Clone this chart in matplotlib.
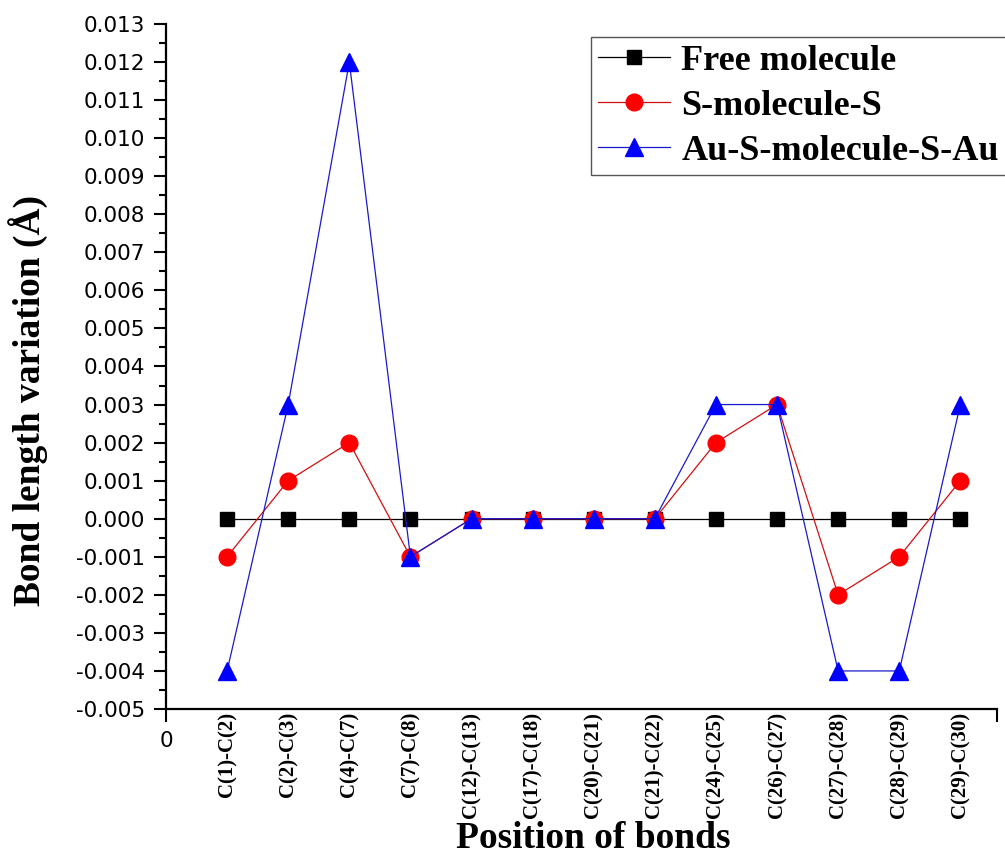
import matplotlib
matplotlib.use("Agg")
import matplotlib.pyplot as plt
import numpy as np
from matplotlib.ticker import AutoMinorLocator

categories = ["C(1)-C(2)", "C(2)-C(3)", "C(4)-C(7)", "C(7)-C(8)", "C(12)-C(13)",
              "C(17)-C(18)", "C(20)-C(21)", "C(21)-C(22)", "C(24)-C(25)",
              "C(26)-C(27)", "C(27)-C(28)", "C(28)-C(29)", "C(29)-C(30)"]
free_molecule = [0, 0, 0, 0, 0, 0, 0, 0, 0, 0, 0, 0, 0]
s_molecule_s = [-0.001, 0.001, 0.002, -0.001, 0, 0, 0, 0, 0.002, 0.003, -0.002, -0.001, 0.001]
au_s_molecule_s_au = [-0.004, 0.003, 0.012, -0.001, 0, 0, 0, 0, 0.003, 0.003, -0.004, -0.004, 0.003]
series_names = ["Free molecule", "S-molecule-S", "Au-S-molecule-S-Au"]
ytick_values = [-0.005, -0.004, -0.003, -0.002, -0.001, 0.000, 0.001, 0.002, 0.003,
                0.004, 0.005, 0.006, 0.007, 0.008, 0.009, 0.010, 0.011, 0.012, 0.013]

serif = ["Liberation Serif", "DejaVu Serif"]
sans = ["DejaVu Sans"]

fig = plt.figure(figsize=(10.05, 8.57), dpi=100)
ax = fig.add_axes([166/1005, 1-709/857, (997-166)/1005, (709-24)/857])

x = np.arange(1, len(categories) + 1)
ax.plot(x, free_molecule, color="black", lw=0.9, marker="s", ms=10.5,
        mec="black", mfc="black", label=series_names[0], zorder=3)
ax.plot(x, s_molecule_s, color="#d01010", lw=0.9, marker="o", ms=12,
        mec="red", mfc="red", label=series_names[1], zorder=4)
ax.plot(x, au_s_molecule_s_au, color="#1a1acc", lw=0.9, marker="^", ms=13.5,
        mec="blue", mfc="blue", label=series_names[2], zorder=5)

ax.set_xlim(0, 13.6)
ax.set_ylim(-0.005, 0.013)

for s in ["top", "right"]:
    ax.spines[s].set_visible(False)
for s in ["left", "bottom"]:
    ax.spines[s].set_linewidth(1.6)

ax.set_yticks(ytick_values, [f"{v:.3f}" for v in ytick_values])
ax.yaxis.set_minor_locator(AutoMinorLocator(2))
ax.tick_params(axis="y", which="major", direction="out", length=9, width=1.5, pad=6,
               labelsize=15.5)
ax.tick_params(axis="y", which="minor", direction="out", length=5, width=1.5)
for lab in ax.get_yticklabels():
    lab.set_fontfamily(sans)

ax.set_xticks(x, categories)
ax.set_xticks([0, 13.6], ["0", ""], minor=True)
ax.tick_params(axis="x", which="major", length=0, pad=2, labelsize=15, labelrotation=90)
ax.tick_params(axis="x", which="minor", direction="out", length=9.5, width=1.5, pad=6,
               labelsize=15.5)
for lab in ax.get_xticklabels():
    lab.set_fontfamily(serif)
    lab.set_fontweight("bold")
for lab in ax.get_xticklabels(minor=True):
    lab.set_fontfamily(sans)

ax.set_ylabel("Bond length variation (Å)", fontsize=27, fontweight="bold",
              family=serif, va="center")
ax.yaxis.set_label_coords(-0.166, 0.45)
ax.set_xlabel("Position of bonds", fontsize=27, fontweight="bold",
              family=serif, va="baseline")
ax.xaxis.set_label_coords(0.514, -0.2035)

leg = ax.legend(loc="upper left", bbox_to_anchor=(591/1005, 1-37/857),
                bbox_transform=fig.transFigure, borderaxespad=0,
                prop={"family": serif, "weight": "bold", "size": 26},
                handlelength=2.0, handletextpad=0.3, labelspacing=0.33,
                borderpad=0.2, fancybox=False, framealpha=1, edgecolor="#555555")
leg.get_frame().set_linewidth(1.0)

fig.savefig("out.png", dpi=100)
